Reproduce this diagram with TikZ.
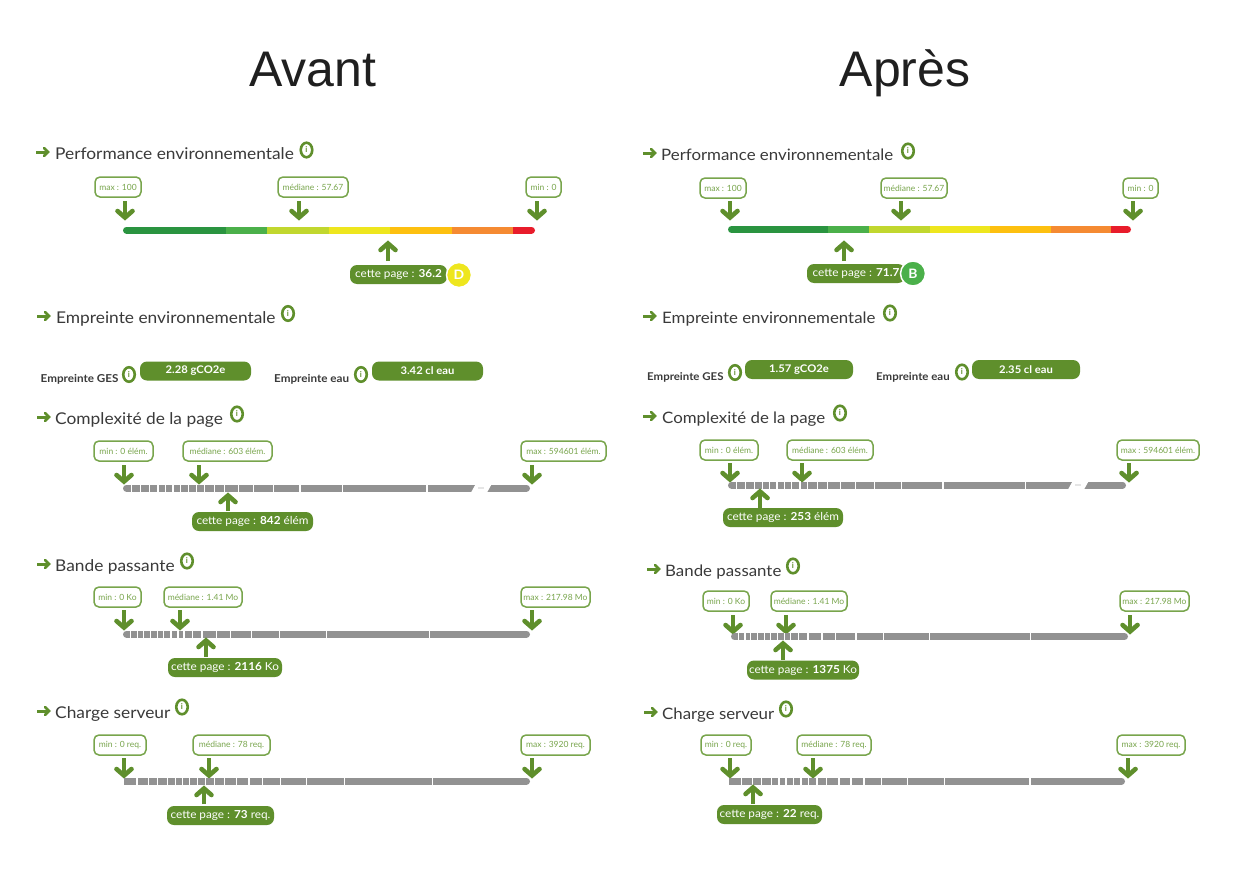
\documentclass[tikz,border=0pt]{standalone}
\usepackage{fontspec}
\usetikzlibrary{shapes.geometric}
\setmainfont{Lato}[FakeStretch=1.07]
\newfontfamily\labfont{Lato}
\newfontfamily\titlefont{Liberation Sans}
\definecolor{gr}{HTML}{5F8F2C}
\definecolor{lgr}{HTML}{78A54C}
\definecolor{ltxt}{HTML}{78A54C}
\definecolor{dk}{HTML}{3A3A3A}
\definecolor{bgrey}{HTML}{929292}
\definecolor{ca}{HTML}{2A9440}
\definecolor{cb}{HTML}{4BB04A}
\definecolor{cc}{HTML}{C1D72E}
\definecolor{cd}{HTML}{EEE61E}
\definecolor{ce}{HTML}{FDC010}
\definecolor{cf}{HTML}{F58A32}
\definecolor{cg}{HTML}{E81C2B}
\tikzset{
 bigtitle/.style={font=\titlefont\fontsize{50}{54}\selectfont,text=black!88,anchor=base,inner sep=0},
 headtxt/.style={font=\fontsize{16.2}{18}\selectfont,text=dk,anchor=base west,inner sep=0},
 labelbox/.style={draw=lgr,line width=1.5pt,rounded corners=5pt,fill=white,text=ltxt,inner sep=0,font=\labfont\fontsize{8.5}{10}\selectfont,minimum height=20pt},
 pillbox/.style={fill=gr,rounded corners=7pt,text=white,inner sep=0,font=\fontsize{11}{12}\selectfont,minimum height=19pt},
 small/.style={font=\bfseries\fontsize{10.9}{12}\selectfont,text=dk,anchor=base west,inner sep=0},
 arrowline/.style={draw=gr,line width=4.6pt,line cap=butt},
 arrowhead/.style={draw=gr,line width=4.6pt,line cap=round,line join=miter},
 infotxt/.style={font=\labfont\bfseries\fontsize{8}{8}\selectfont,text=gr,inner sep=0},
 gradebadge/.style={circle,draw=white,line width=1.5pt,minimum size=25pt,inner sep=0,text=white,font=\bfseries\fontsize{13}{13}\selectfont},
}
% box: name, x0, x1, ytop, text
\newcommand{\lab}[5]{\pgfmathsetmacro{\ww}{#3-#2}\pgfmathsetmacro{\cx}{(#2+#3)/2}\pgfmathsetmacro{\cy}{#4+10}
 \node[labelbox,minimum width=\ww pt] (#1) at (\cx,\cy) {#5};}
\newcommand{\pill}[6][]{\pgfmathsetmacro{\ww}{#3-#2}\pgfmathsetmacro{\cx}{(#2+#3)/2}\pgfmathsetmacro{\cy}{#4+9.5}
 \node[pillbox,minimum width=\ww pt,#1] (#5) at (\cx,\cy) {#6};}
% down arrow: x, ytop, ytip
\newcommand{\dn}[3]{\draw[arrowline] (#1,#2) -- (#1,#3-3);
 \draw[arrowhead] (#1-7.5,#3-8) -- (#1,#3-1.5) -- (#1+7.5,#3-8);}
\newcommand{\up}[3]{\draw[arrowline] (#1,#3) -- (#1,#2+3);
 \draw[arrowhead] (#1-7.5,#2+8) -- (#1,#2+1.5) -- (#1+7.5,#2+8);}
\newcommand{\infoicon}[3]{\node[draw=gr,line width=2.6pt,fill=white,ellipse,minimum width=11.5pt,minimum height=14.5pt,inner sep=0,infotxt] (#1) at (#2,#3) {i};}
% heading: name,xarrow,yarrow,xtext,baseline,text,xicon,yicon
\newcommand{\head}[8]{\draw[draw=gr,line width=3pt] (#2,#3) -- (#2+11.5,#3);
 \draw[draw=gr,line width=2.6pt,line cap=round] (#2+8,#3-4) -- (#2+12,#3) -- (#2+8,#3+4);
 \node[headtxt] (#1) at (#4,#5) {#6};
 \infoicon{#1i}{#7}{#8}}
% grey bar: x0,x1,y,fractions
\newcommand{\gbar}[4]{\draw[bgrey,line width=7pt,line cap=round] (#1+3.5,#3) -- (#2-3.5,#3);
 \foreach \f in #4 {\pgfmathsetmacro{\tx}{#1+\f*(#2-#1)}
  \draw[white,line width=1.2pt] (\tx,#3-4) -- (\tx,#3+4);}}
\newcommand{\brk}[2]{\fill[white] (#1,#2-4.5) -- (#1+16,#2-4.5) -- (#1+11,#2+4.5) -- (#1-5,#2+4.5) -- cycle;
 \foreach \d in {0,2,4} \fill[bgrey] (#1+3+\d,#2) circle (0.6);}
% colour bar: x0, b1..b6, x1, y
\newcommand{\cbar}[9]{\pgfmathsetmacro{\yy}{#9}
 \draw[cg,line width=7pt,line cap=round] (#7,\yy) -- (#8-3.5,\yy);
 \draw[ca,line width=7pt,line cap=round] (#1+3.5,\yy) -- (#2,\yy);
 \draw[cb,line width=7pt] (#2,\yy) -- (#3,\yy);
 \draw[cc,line width=7pt] (#3,\yy) -- (#4,\yy);
 \draw[cd,line width=7pt] (#4,\yy) -- (#5,\yy);
 \draw[ce,line width=7pt] (#5,\yy) -- (#6,\yy);
 \draw[cf,line width=7pt] (#6,\yy) -- (#7,\yy);}
\newcommand{\cmpl}{.021,.043,.066,.086,.105,.123,.142,.16,.181,.2,.224,.25,.283,.32,.369,.435,.54,.747}
\newcommand{\band}{.018,.035,.05,.067,.085,.1,.118,.135,.15,.17,.194,.229,.264,.315,.385,.50,.754}
\newcommand{\chrg}{.032,.06,.083,.108,.126,.144,.162,.182,.2,.222,.247,.278,.308,.341,.386,.45,.544,.76}
\begin{document}
\begin{tikzpicture}[x=1pt,y=-1pt]
\useasboundingbox (0,0) rectangle (1245,875);
\fill[white] (0,0) rectangle (1245,875);
\node[bigtitle] (avant) at (313,86) {Avant};
\node[bigtitle] (apres) at (905,86) {Après};
%% LEFT
\head{h1}{36}{152}{55}{159}{Performance environnementale}{306.5}{150}
\lab{a1}{95}{141}{177}{max : 100}\lab{a2}{278}{348}{177}{médiane : 57.67}\lab{a3}{526}{561}{177}{min : 0}
\dn{125}{201}{219}\dn{299}{201}{219}\dn{537}{201}{219}
\cbar{123}{226}{267}{329}{390}{452}{513}{535}{230}
\up{388}{242}{261}
\pill{350}{447}{265}{a4}{cette page : \textbf{36.2}\hspace{4pt}}
\node[gradebadge,fill=cd] (a5) at (459,275) {D};

\head{h2}{37}{316}{56}{323}{Empreinte environnementale}{288}{313.5}
\node[small] (b1) at (40.5,382) {Empreinte GES};\infoicon{b2}{129}{374.5}
\pill[font=\bfseries\fontsize{10.5}{12}\selectfont]{140}{251}{361.5}{b3}{2.28 gCO2e}
\node[small] (b4) at (274,382) {Empreinte eau};\infoicon{b5}{361}{374.5}
\pill[font=\bfseries\fontsize{10.5}{12}\selectfont]{372}{483}{361.5}{b6}{3.42 cl eau}

\head{h3}{37}{417}{55}{424}{Complexité de la page}{237}{414}
\lab{c1}{94}{153}{441}{min : 0 élém.}\lab{c2}{183}{272}{441}{médiane : 603 élém.}\lab{c3}{521}{606}{441}{max : 594601 élém.}
\dn{124}{465}{483}\dn{199}{465}{483}\dn{532}{465}{483}
\gbar{123}{530}{488}{\cmpl}\brk{476}{488}
\up{228}{494}{511}
\pill{192}{313}{512}{c4}{cette page : \textbf{842} élém}

\head{h4}{37}{564}{55}{571}{Bande passante}{187}{561}
\lab{d1}{94}{141}{587}{min : 0 Ko}\lab{d2}{164}{242}{587}{médiane : 1.41 Mo}\lab{d3}{521}{590}{587}{max : 217.98 Mo}
\dn{124}{610}{629}\dn{180}{610}{629}\dn{532}{610}{629}
\gbar{123}{530}{634}{\band}
\up{206}{639}{657}
\pill{168}{282}{658}{d4}{cette page : \textbf{2116} Ko}

\head{h5}{37}{711}{55}{718}{Charge serveur}{182}{707}
\lab{e1}{94}{146}{735}{min : 0 req.}\lab{e2}{193}{270}{735}{médiane : 78 req.}\lab{e3}{521}{590}{735}{max : 3920 req.}
\dn{124}{758}{777}\dn{209}{758}{777}\dn{532}{758}{777}
\gbar{124}{530}{781}{\chrg}\fill[bgrey] (124,777.5) rectangle (129,784.5);
\up{204}{787}{804}
\pill{167}{274}{806}{e4}{cette page : \textbf{73} req.}
%% RIGHT
\tikzset{headtxt/.append style={font=\fontsize{15.75}{18}\selectfont},small/.append style={font=\bfseries\fontsize{10.7}{12}\selectfont}}
\head{k1}{643}{153}{661}{160}{Performance environnementale}{908}{151}
\lab{f1}{700}{746}{178}{max : 100}\lab{f2}{881}{947}{178}{médiane : 57.67}\lab{f3}{1123}{1158}{178}{min : 0}
\dn{730}{201}{219}\dn{901}{201}{219}\dn{1133}{201}{219}
\cbar{728}{828}{869}{930}{990}{1051}{1111}{1131}{229.5}
\up{844}{242}{261}
\pill{807}{905}{264}{f4}{cette page : \textbf{71.7}\hspace{4pt}}
\node[gradebadge,fill=cb] (f5) at (913,273.5) {B};

\head{k2}{643}{316}{662}{323}{Empreinte environnementale}{890}{313}
\node[small] (g1) at (647,380) {Empreinte GES};\infoicon{g2}{735}{372.5}
\pill[font=\bfseries\fontsize{10.5}{12}\selectfont]{745}{853}{360}{g3}{1.57 gCO2e}
\node[small] (g4) at (876,380) {Empreinte eau};\infoicon{g5}{962}{372}
\pill[font=\bfseries\fontsize{10.5}{12}\selectfont]{972}{1080}{360}{g6}{2.35 cl eau}

\head{k3}{643}{416}{662}{423}{Complexité de la page}{840}{413}
\lab{m1}{700}{758}{440}{min : 0 élém.}\lab{m2}{787}{873}{440}{médiane : 603 élém.}\lab{m3}{1117}{1199}{440}{max : 594601 élém.}
\dn{730}{463}{481}\dn{802}{463}{481}\dn{1129}{463}{481}
\gbar{728}{1126}{485}{\cmpl}\brk{1073}{485}
\up{760}{490}{508}
\pill{723}{843}{508}{m4}{cette page : \textbf{253} élém}

\head{k4}{647}{569}{665}{576}{Bande passante}{793}{566}
\lab{n1}{703}{749}{591}{min : 0 Ko}\lab{n2}{771}{847}{591}{médiane : 1.41 Mo}\lab{n3}{1120}{1189}{591}{max : 217.98 Mo}
\dn{733}{615}{633}\dn{786}{615}{633}\dn{1130}{615}{633}
\gbar{731}{1128}{636.5}{\band}
\up{783}{642}{660}
\pill{747}{859}{660.5}{n4}{cette page : \textbf{1375} Ko}

\head{k5}{644}{712}{662}{719}{Charge serveur}{786}{709}
\lab{p1}{701}{751}{735}{min : 0 req.}\lab{p2}{797}{871}{735}{médiane : 78 req.}\lab{p3}{1117}{1185}{735}{max : 3920 req.}
\dn{730}{758}{777}\dn{813}{758}{777}\dn{1128}{758}{777}
\gbar{729}{1125}{781}{\chrg}\fill[bgrey] (729,777.5) rectangle (734,784.5);
\up{753}{786}{804}
\pill{717}{822}{805}{p4}{cette page : \textbf{22} req.}
\end{tikzpicture}
\end{document}
